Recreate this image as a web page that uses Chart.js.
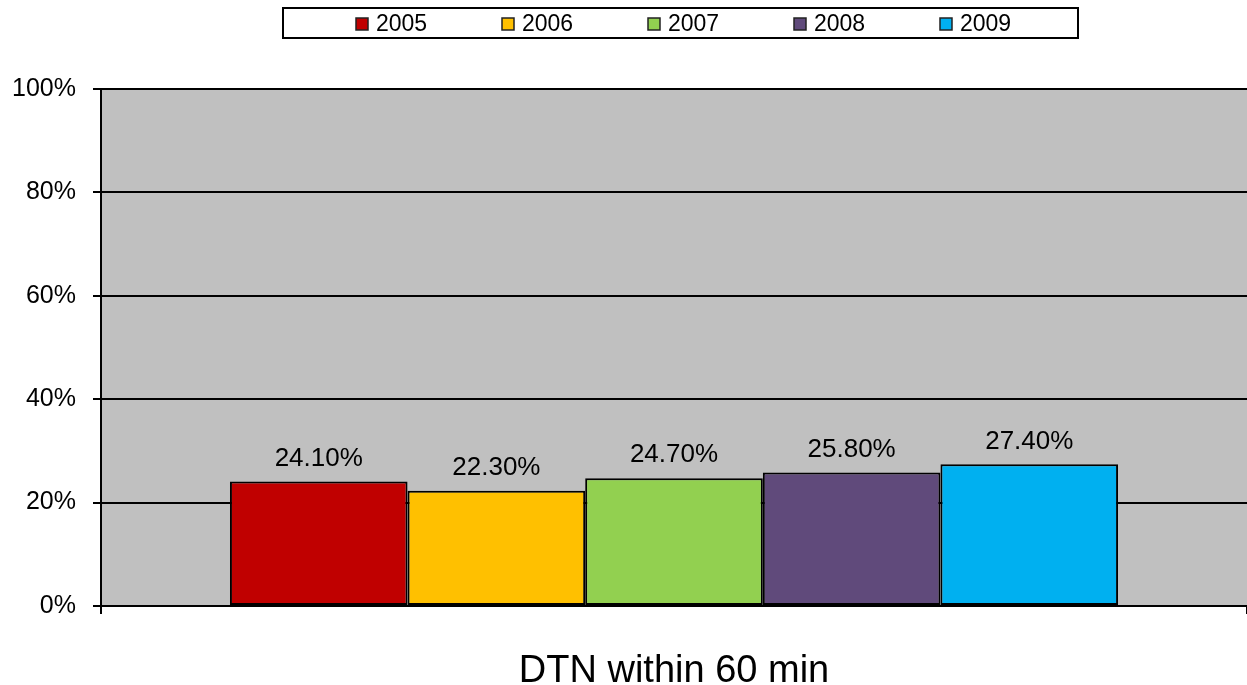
<!DOCTYPE html>
<html>
<head>
<meta charset="utf-8">
<script src="https://cdn.jsdelivr.net/npm/chart.js@4"></script>
<style>
html,body{margin:0;padding:0;background:#fff;}
#wrap{width:1247px;height:685px;position:relative;}
</style>
</head>
<body>
<div id="wrap"><canvas id="c"></canvas></div>
<script>
const categories = ['DTN within 60 min'];
const seriesNames = ['2005', '2006', '2007', '2008', '2009'];
const seriesValues = [[24.1], [22.3], [24.7], [25.8], [27.4]];
const seriesColors = ['#C00000', '#FFC000', '#92D050', '#604A7B', '#00B0F0'];
const yTicks = [0, 20, 40, 60, 80, 100];

const FONT = '"Liberation Sans", Arial, sans-serif';

const bgPlugin = {
  id: 'bg',
  beforeDraw(chart) {
    const {ctx, chartArea: a} = chart;
    ctx.save();
    ctx.fillStyle = '#C0C0C0';
    ctx.fillRect(a.left, a.top, a.right - a.left, a.bottom - a.top);
    ctx.restore();
  }
};

const labelPlugin = {
  id: 'vlabels',
  afterDatasetsDraw(chart) {
    const ctx = chart.ctx;
    ctx.save();
    ctx.font = '26px ' + FONT;
    ctx.fillStyle = '#000';
    ctx.textAlign = 'center';
    ctx.textBaseline = 'middle';
    chart.data.datasets.forEach((ds, i) => {
      const meta = chart.getDatasetMeta(i);
      meta.data.forEach((el, j) => {
        ctx.fillText(ds.data[j].toFixed(2) + '%', el.x, el.y - 23);
      });
    });
    ctx.restore();
  }
};

const legendPlugin = {
  id: 'boxlegend',
  afterDraw(chart) {
    const ctx = chart.ctx;
    ctx.save();
    ctx.lineWidth = 2;
    ctx.strokeStyle = '#000';
    ctx.fillStyle = '#fff';
    ctx.fillRect(283, 8, 795, 30);
    ctx.strokeRect(283, 8, 795, 30);
    ctx.font = '23px ' + FONT;
    ctx.textBaseline = 'middle';
    ctx.textAlign = 'left';
    const startX = 356, step = 146, cy = 24;
    chart.data.datasets.forEach((ds, i) => {
      const x = startX + i * step;
      ctx.fillStyle = ds.backgroundColor;
      ctx.fillRect(x, cy - 6, 12, 12);
      ctx.lineWidth = 1.5;
      ctx.strokeStyle = '#222';
      ctx.strokeRect(x, cy - 6, 12, 12);
      ctx.fillStyle = '#000';
      ctx.fillText(ds.label, x + 20, cy + 1);
    });
    ctx.restore();
  }
};

new Chart(document.getElementById('c'), {
  type: 'bar',
  data: {
    labels: categories,
    datasets: seriesNames.map((n, i) => ({
      label: n,
      data: seriesValues[i],
      backgroundColor: seriesColors[i],
      borderColor: '#000',
      borderWidth: 2,
      borderSkipped: false,
      categoryPercentage: 0.775,
      barPercentage: 1.0
    }))
  },
  options: {
    responsive: true,
    maintainAspectRatio: false,
    animation: false,
    devicePixelRatio: 1,
    layout: { padding: { top: 89, left: 0, right: 0, bottom: 0 } },
    plugins: { legend: { display: false }, tooltip: { enabled: false } },
    scales: {
      x: {
        grid: { display: true, drawOnChartArea: false, drawTicks: true, tickLength: 8, color: '#000', lineWidth: 2 },
        border: { display: false },
        ticks: { font: { family: FONT, size: 38 }, color: '#000', padding: 35 },
        afterFit(s) { s.height = 79; }
      },
      y: {
        min: 0, max: 100,
        afterBuildTicks(s) { s.ticks = yTicks.map(v => ({ value: v })); },
        grid: { color: '#000', lineWidth: 2, drawTicks: true, tickLength: 8 },
        border: { display: true, color: '#000', width: 2 },
        ticks: { font: { family: FONT, size: 25 }, color: '#000', padding: 17,
                 callback: v => v + '%' },
        afterFit(s) { s.width = 101; }
      }
    }
  },
  plugins: [bgPlugin, labelPlugin, legendPlugin]
});
</script>
</body>
</html>
